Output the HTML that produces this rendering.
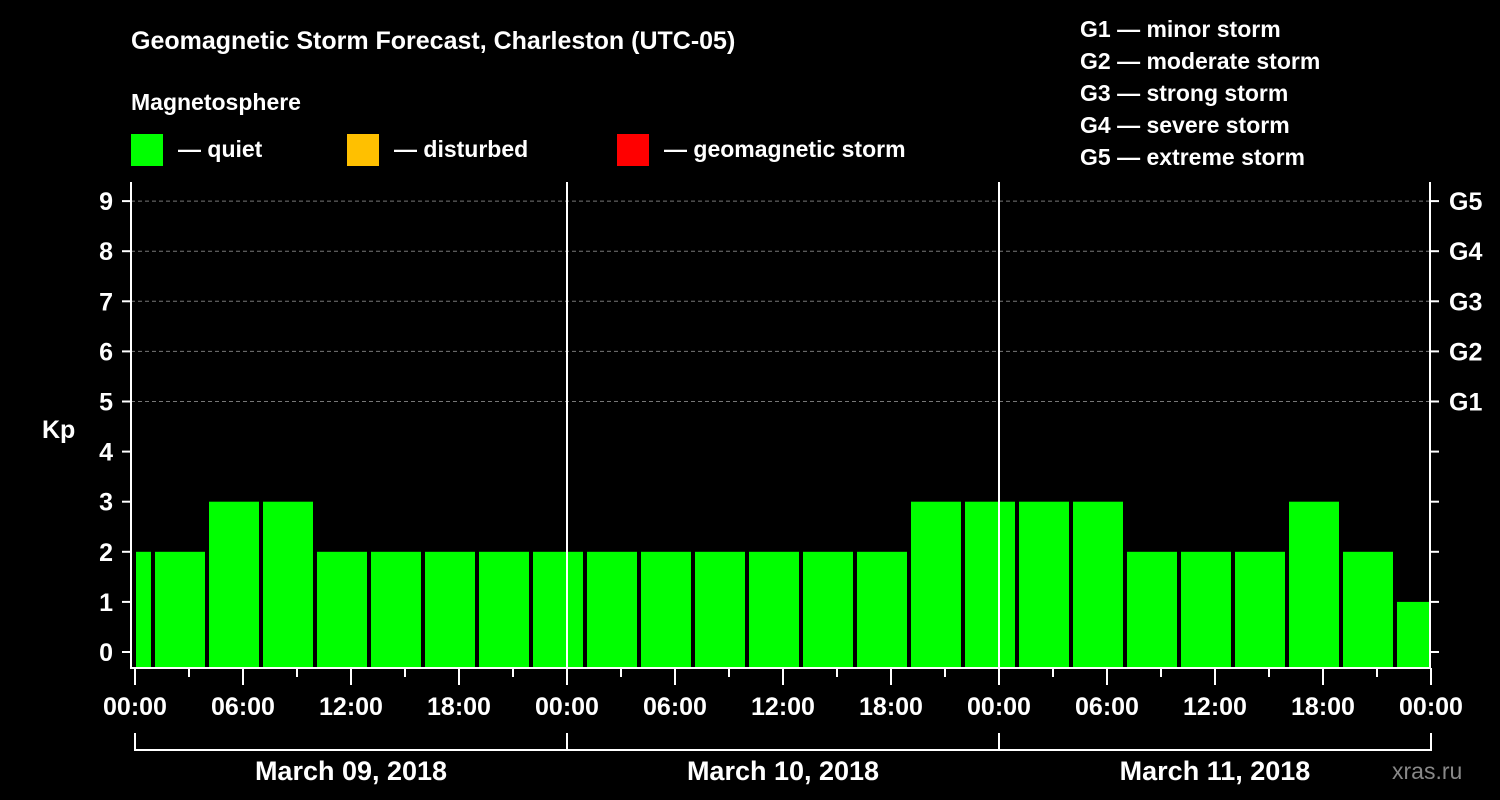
<!DOCTYPE html>
<html><head><meta charset="utf-8"><style>
body{margin:0;background:#000;}
svg{display:block;font-family:"Liberation Sans",sans-serif;font-weight:bold;}
</style></head><body>
<svg id="chart" width="1500" height="800" viewBox="0 0 1500 800">
<rect width="1500" height="800" fill="#000"/>
<text x="131" y="49" fill="#fff" font-size="25">Geomagnetic Storm Forecast, Charleston (UTC-05)</text>
<text x="131" y="110" fill="#fff" font-size="23">Magnetosphere</text>
<g><rect x="131" y="134" width="32" height="32" fill="#00ff00"/><text x="178" y="157" fill="#fff" font-size="23">— quiet</text></g>
<g><rect x="347" y="134" width="32" height="32" fill="#ffc000"/><text x="394" y="157" fill="#fff" font-size="23">— disturbed</text></g>
<g><rect x="617" y="134" width="32" height="32" fill="#ff0000"/><text x="664" y="157" fill="#fff" font-size="23">— geomagnetic storm</text></g>
<g fill="#fff" font-size="23">
<text x="1080" y="37">G1 — minor storm</text>
<text x="1080" y="69">G2 — moderate storm</text>
<text x="1080" y="101">G3 — strong storm</text>
<text x="1080" y="133">G4 — severe storm</text>
<text x="1080" y="165">G5 — extreme storm</text>
</g>
<text x="42" y="438" fill="#fff" font-size="25">Kp</text>
<g id="plot"></g>
<text x="1392" y="779" fill="#888" font-size="23" font-weight="normal">xras.ru</text>
</svg>
<script>
const values=[2,2,3,3,2,2,2,2,2,2,2,2,2,2,2,3,3,3,3,2,2,2,3,2,1];
const startHours=[-2,1,4,7,10,13,16,19,22,25,28,31,34,37,40,43,46,49,52,55,58,61,64,67,70];
const yTicks=[0,1,2,3,4,5,6,7,8,9];
const gLabels=["","","","","","G1","G2","G3","G4","G5"];
const timeLabels=["00:00","06:00","12:00","18:00","00:00","06:00","12:00","18:00","00:00","06:00","12:00","18:00","00:00"];
const dayLabels=["March 09, 2018","March 10, 2018","March 11, 2018"];
const X0=135,PXH=432/24,HMAX=72,Y0=652,PXK=50.1,BOT=668,TOP=182;
const xs=h=>X0+h*PXH, ys=k=>Y0-k*PXK;
const NS="http://www.w3.org/2000/svg",g=document.getElementById('plot');
function mk(t,a){const e=document.createElementNS(NS,t);for(const k in a)e.setAttribute(k,a[k]);g.appendChild(e);return e;}
// grid
yTicks.forEach((k,i)=>{if(k>=5){const l=mk('line',{x1:131,x2:1430,y1:ys(k),y2:ys(k),stroke:'#777','stroke-dasharray':'4,3'});

}});
// bars
values.forEach((v,i)=>{const a=Math.max(0,startHours[i]),b=Math.min(HMAX,startHours[i]+3);
const x1=xs(a)+(startHours[i]<0?1:2),x2=xs(b)-(startHours[i]+3>HMAX?2:2);
const c=v>=5?'#ff0000':(v>=4?'#ffc000':'#00ff00');
const r=mk('rect',{x:x1,y:ys(v),width:x2-x1,height:BOT-ys(v),fill:c});

});
// day separators
[1,2].forEach(d=>{const l=mk('line',{x1:xs(24*d),x2:xs(24*d),y1:TOP,y2:BOT,stroke:'#fff','stroke-width':2});

});
// axes
const ax=mk('path',{d:`M131 ${TOP}V${BOT}H1430V${TOP}`,stroke:'#fff','stroke-width':2,fill:'none'});


yTicks.forEach((k,i)=>{mk('line',{x1:122,x2:131,y1:ys(k),y2:ys(k),stroke:'#fff','stroke-width':2});
mk('line',{x1:1430,x2:1439,y1:ys(k),y2:ys(k),stroke:'#fff','stroke-width':2});
const t=mk('text',{x:113,y:ys(k)+9,fill:'#fff','font-size':25,'text-anchor':'end'});t.textContent=k;


if(gLabels[i]){const r=mk('text',{x:1449,y:ys(k)+9,fill:'#fff','font-size':25});r.textContent=gLabels[i];

}});
for(let h=0;h<=HMAX;h+=3){const maj=h%6===0;mk('line',{x1:xs(h),x2:xs(h),y1:BOT,y2:BOT+(maj?17:9),stroke:'#fff','stroke-width':2});}
timeLabels.forEach((s,i)=>{const t=mk('text',{x:xs(i*6),y:715,fill:'#fff','font-size':25,'text-anchor':'middle'});t.textContent=s;

});
const br=mk('path',{d:`M${xs(0)} 733V750H${xs(72)}V733M${xs(24)} 733V750M${xs(48)} 733V750`,stroke:'#fff','stroke-width':2,fill:'none'});


dayLabels.forEach((s,i)=>{const t=mk('text',{x:xs(24*i+12),y:780,fill:'#fff','font-size':27,'text-anchor':'middle'});t.textContent=s;

});
</script>
</body></html>
